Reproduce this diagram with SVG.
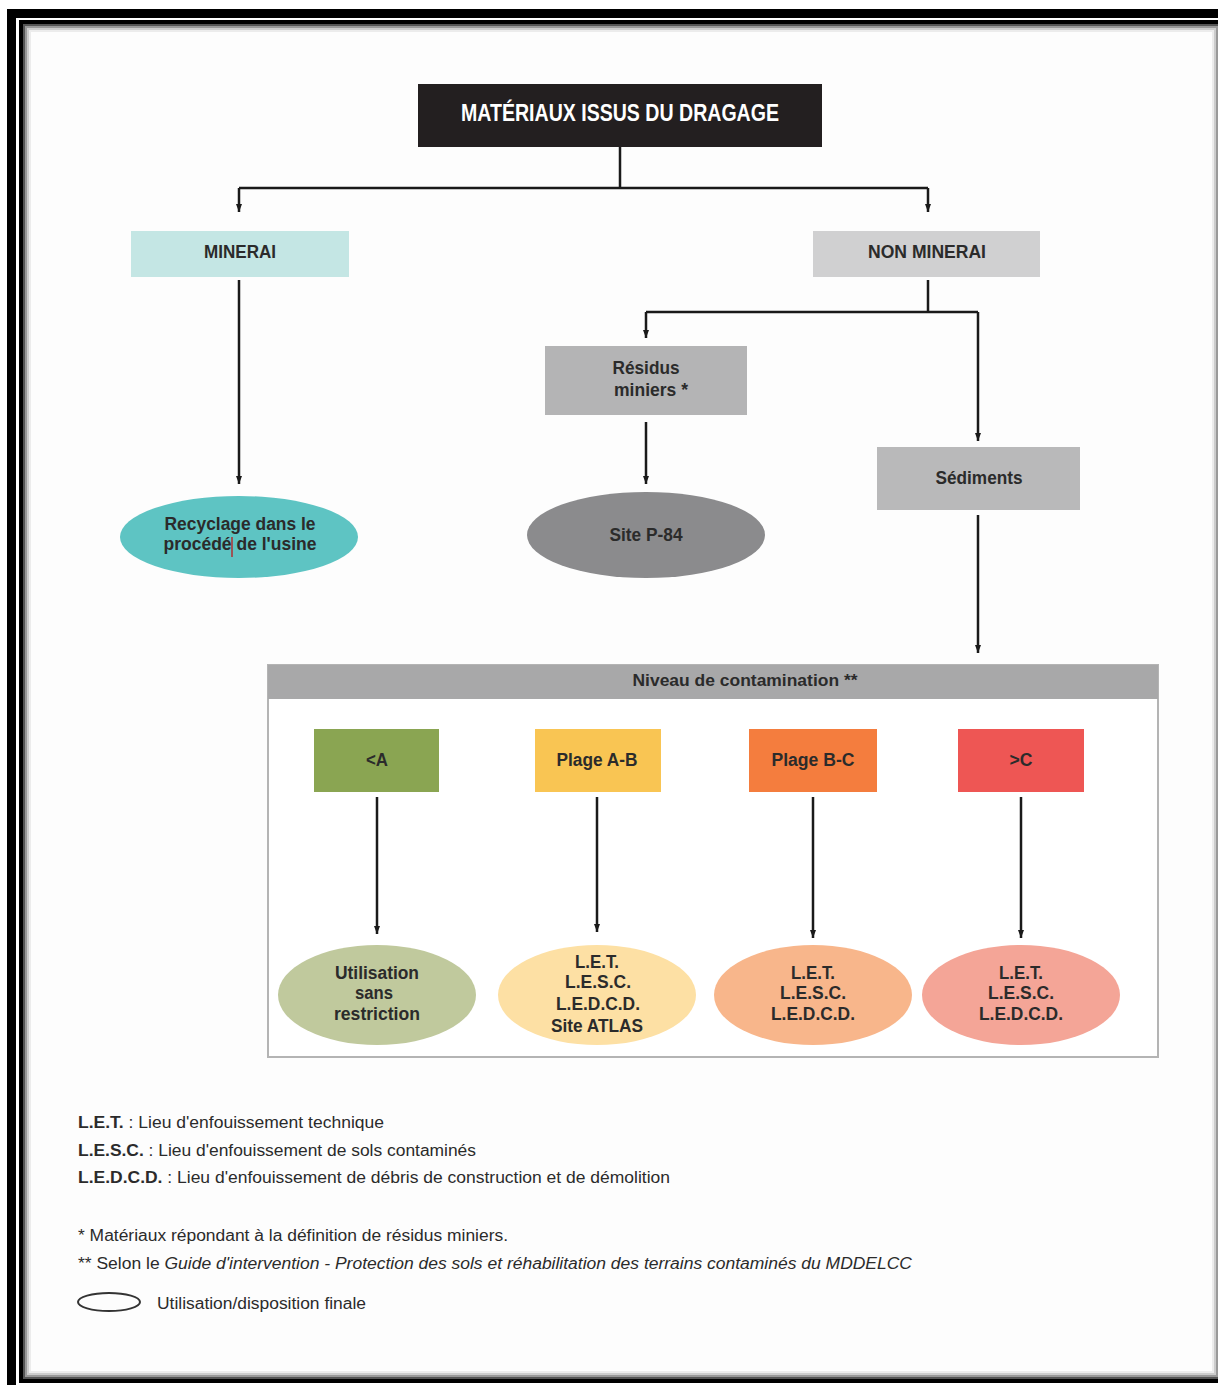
<svg xmlns="http://www.w3.org/2000/svg" width="1218" height="1385" viewBox="0 0 1218 1385">
<style>
.t{font-family:"Liberation Sans Narrow","Liberation Sans",Arial,sans-serif;font-weight:bold;fill:#2b2b2b;text-anchor:middle}
.lg{font-family:"Liberation Sans Narrow","Liberation Sans",Arial,sans-serif;fill:#2b2b2b;font-size:16px}
.c{fill:none;stroke:#1a1a1a;stroke-width:2.5}
</style>
<defs>
<marker id="ah" markerUnits="userSpaceOnUse" markerWidth="8" markerHeight="8" refX="8" refY="3" orient="auto">
<path d="M0,0 L8,3 L0,6 z" fill="#1a1a1a"/>
</marker>
</defs>
<rect x="0" y="0" width="1218" height="1385" fill="#fff"/>
<g id="frame">
<rect x="7" y="9" width="1300" height="1400" fill="#000"/>
<rect x="16" y="18" width="1300" height="1400" fill="#fff"/>
<rect x="19" y="20" width="1300" height="1363" fill="#000"/>
<rect x="23" y="24" width="1200" height="1355" fill="#555"/>
<rect x="25" y="26" width="1193" height="1351" fill="#999"/>
<rect x="27" y="28" width="1189" height="1347" fill="#ccc"/>
<rect x="29" y="30" width="1185" height="1343" fill="#ececec"/>
<rect x="31" y="32" width="1181" height="1339" fill="#fdfdfd"/>
</g>
<g id="niveau">
<rect x="268" y="665" width="890" height="392" fill="#fff" stroke="#b4b4b4" stroke-width="2"/>
<rect x="268" y="665" width="890" height="34" fill="#a8a8a9"/>
<text class="t" x="745" y="686" font-size="17" textLength="225" lengthAdjust="spacingAndGlyphs">Niveau de contamination **</text>
</g>
<g id="connectors">
<path class="c" d="M620,147 V188"/>
<path class="c" d="M239,188 H928"/>
<path class="c" d="M239,188 V212" marker-end="url(#ah)"/>
<path class="c" d="M928,188 V212" marker-end="url(#ah)"/>
<path class="c" d="M239,280 V484" marker-end="url(#ah)"/>
<path class="c" d="M928,280 V312"/>
<path class="c" d="M646,312 H978"/>
<path class="c" d="M646,312 V338" marker-end="url(#ah)"/>
<path class="c" d="M978,312 V441" marker-end="url(#ah)"/>
<path class="c" d="M646,422 V484" marker-end="url(#ah)"/>
<path class="c" d="M978,515 V653" marker-end="url(#ah)"/>
<path class="c" d="M377,797 V934" marker-end="url(#ah)"/>
<path class="c" d="M597,797 V932" marker-end="url(#ah)"/>
<path class="c" d="M813,797 V938" marker-end="url(#ah)"/>
<path class="c" d="M1021,797 V938" marker-end="url(#ah)"/>
</g>
<g id="title">
<rect x="418" y="84" width="404" height="63" fill="#231f20"/>
<text class="t" x="620" y="121" font-size="23" style="fill:#fff" textLength="318" lengthAdjust="spacingAndGlyphs">MATÉRIAUX ISSUS DU DRAGAGE</text>
</g>
<g id="minerai">
<rect x="131" y="231" width="218" height="46" fill="#c4e6e4"/>
<text class="t" x="240" y="258" font-size="18" textLength="72" lengthAdjust="spacingAndGlyphs">MINERAI</text>
</g>
<g id="non-minerai">
<rect x="813" y="231" width="227" height="46" fill="#d0d0d1"/>
<text class="t" x="927" y="258" font-size="18" textLength="118" lengthAdjust="spacingAndGlyphs">NON MINERAI</text>
</g>
<g id="recyclage">
<ellipse cx="239" cy="537" rx="119" ry="41" fill="#5ec4c3"/>
<text class="t" x="240" y="530" font-size="18" textLength="151" lengthAdjust="spacingAndGlyphs">Recyclage dans le</text>
<text class="t" x="240" y="550" font-size="18" textLength="153" lengthAdjust="spacingAndGlyphs">procédé de l'usine</text>
<line x1="232" y1="537" x2="232" y2="557" stroke="#b03030" stroke-width="1.5"/>
</g>
<g id="residus">
<rect x="545" y="346" width="202" height="69" fill="#b4b4b5"/>
<text class="t" x="646" y="374" font-size="18" textLength="67" lengthAdjust="spacingAndGlyphs">Résidus</text>
<text class="t" x="651" y="396" font-size="18" textLength="74" lengthAdjust="spacingAndGlyphs">miniers *</text>
</g>
<g id="site-p84">
<ellipse cx="646" cy="535" rx="119" ry="43" fill="#8b8b8d"/>
<text class="t" x="646" y="541" font-size="18" textLength="73" lengthAdjust="spacingAndGlyphs">Site P-84</text>
</g>
<g id="sediments">
<rect x="877" y="447" width="203" height="63" fill="#b9b9ba"/>
<text class="t" x="979" y="484" font-size="18" textLength="87" lengthAdjust="spacingAndGlyphs">Sédiments</text>
</g>
<g id="lvl-a">
<rect x="314" y="729" width="125" height="63" fill="#8aa552"/>
<text class="t" x="377" y="766" font-size="18" textLength="22" lengthAdjust="spacingAndGlyphs">&lt;A</text>
</g>
<g id="lvl-ab">
<rect x="535" y="729" width="126" height="63" fill="#f9c553"/>
<text class="t" x="597" y="766" font-size="18" textLength="81" lengthAdjust="spacingAndGlyphs">Plage A-B</text>
</g>
<g id="lvl-bc">
<rect x="749" y="729" width="128" height="63" fill="#f47d3e"/>
<text class="t" x="813" y="766" font-size="18" textLength="83" lengthAdjust="spacingAndGlyphs">Plage B-C</text>
</g>
<g id="lvl-c">
<rect x="958" y="729" width="126" height="63" fill="#ee5654"/>
<text class="t" x="1021" y="766" font-size="18" textLength="23" lengthAdjust="spacingAndGlyphs">&gt;C</text>
</g>
<g id="out-a">
<ellipse cx="377" cy="995" rx="99" ry="50" fill="#c0c99d"/>
<text class="t" x="377" y="979" font-size="18" textLength="84" lengthAdjust="spacingAndGlyphs">Utilisation</text>
<text class="t" x="374" y="999" font-size="18" textLength="38" lengthAdjust="spacingAndGlyphs">sans</text>
<text class="t" x="377" y="1020" font-size="18" textLength="86" lengthAdjust="spacingAndGlyphs">restriction</text>
</g>
<g id="out-ab">
<ellipse cx="597" cy="995" rx="99" ry="50" fill="#fde0a4"/>
<text class="t" x="597" y="968" font-size="18" textLength="44" lengthAdjust="spacingAndGlyphs">L.E.T.</text>
<text class="t" x="598" y="988" font-size="18" textLength="66" lengthAdjust="spacingAndGlyphs">L.E.S.C.</text>
<text class="t" x="598" y="1010" font-size="18" textLength="84" lengthAdjust="spacingAndGlyphs">L.E.D.C.D.</text>
<text class="t" x="597" y="1032" font-size="18" textLength="92" lengthAdjust="spacingAndGlyphs">Site ATLAS</text>
</g>
<g id="out-bc">
<ellipse cx="813" cy="995" rx="99" ry="50" fill="#f8b68b"/>
<text class="t" x="813" y="979" font-size="18" textLength="44" lengthAdjust="spacingAndGlyphs">L.E.T.</text>
<text class="t" x="813" y="999" font-size="18" textLength="66" lengthAdjust="spacingAndGlyphs">L.E.S.C.</text>
<text class="t" x="813" y="1020" font-size="18" textLength="84" lengthAdjust="spacingAndGlyphs">L.E.D.C.D.</text>
</g>
<g id="out-c">
<ellipse cx="1021" cy="995" rx="99" ry="50" fill="#f4a597"/>
<text class="t" x="1021" y="979" font-size="18" textLength="44" lengthAdjust="spacingAndGlyphs">L.E.T.</text>
<text class="t" x="1021" y="999" font-size="18" textLength="66" lengthAdjust="spacingAndGlyphs">L.E.S.C.</text>
<text class="t" x="1021" y="1020" font-size="18" textLength="84" lengthAdjust="spacingAndGlyphs">L.E.D.C.D.</text>
</g>
<g id="legend">
<text class="lg" x="78" y="1128" textLength="306" lengthAdjust="spacingAndGlyphs"><tspan font-weight="bold">L.E.T.</tspan> : Lieu d'enfouissement technique</text>
<text class="lg" x="78" y="1156" textLength="398" lengthAdjust="spacingAndGlyphs"><tspan font-weight="bold">L.E.S.C.</tspan> : Lieu d'enfouissement de sols contaminés</text>
<text class="lg" x="78" y="1183" textLength="592" lengthAdjust="spacingAndGlyphs"><tspan font-weight="bold">L.E.D.C.D.</tspan> : Lieu d'enfouissement de débris de construction et de démolition</text>
<text class="lg" x="78" y="1241" textLength="430" lengthAdjust="spacingAndGlyphs">* Matériaux répondant à la définition de résidus miniers.</text>
<text class="lg" x="78" y="1269" textLength="834" lengthAdjust="spacingAndGlyphs">** Selon le <tspan font-style="italic">Guide d'intervention - Protection des sols et réhabilitation des terrains contaminés du MDDELCC</tspan></text>
<ellipse cx="109" cy="1302" rx="31" ry="9" fill="none" stroke="#333" stroke-width="2"/>
<text class="lg" x="157" y="1309" textLength="209" lengthAdjust="spacingAndGlyphs">Utilisation/disposition finale</text>
</g>
</svg>
